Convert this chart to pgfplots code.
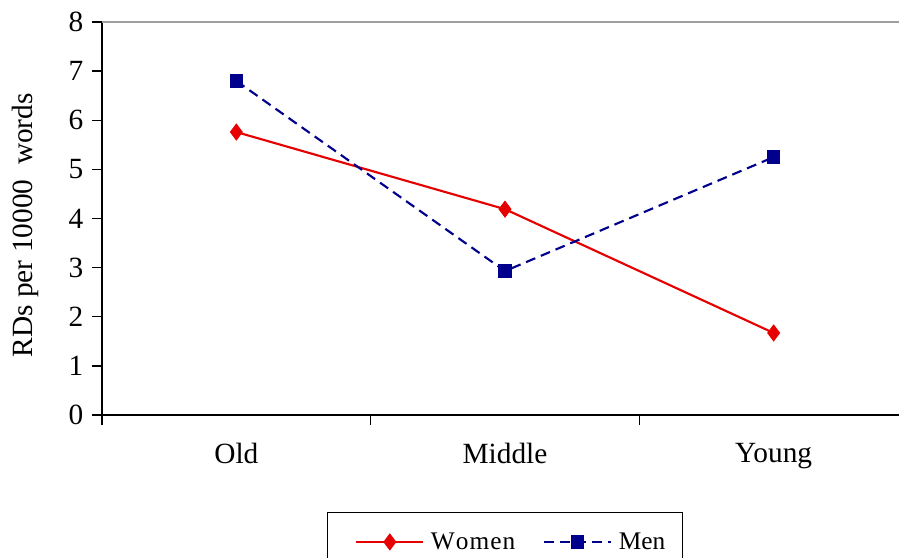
\documentclass[border=0pt]{standalone}
\usepackage{pgfplots}
\pgfplotsset{compat=1.18}
\usepackage{fontspec}
\setmainfont{Liberation Serif}
\definecolor{womenred}{RGB}{230,0,0}
\definecolor{mennavy}{RGB}{0,0,140}
\begin{document}
\begin{tikzpicture}
\begin{axis}[
  name=ax,
  at={(0,0)}, anchor=south west,
  scale only axis,
  width=604.5pt, height=294.75pt,
  xmin=0, xmax=3, ymin=0, ymax=8,
  axis x line*=bottom, axis y line*=left,
  axis line style={line width=1.1pt, black, -},
  xtick={0,1,2,3},
  xticklabels={Old,Middle,Young},
  x tick label as interval,
  ytick={0,1,...,8},
  tick style={line width=1.1pt, black},
  major tick length=7.5pt,
  tick align=outside,
  /pgf/number format/assume math mode=true,
  tick label style={font=\fontsize{22}{26}\selectfont},
  xticklabel style={yshift=-10pt},
  yticklabel style={xshift=-3pt},
  ylabel={RDs per 10000\ \ words},
  ylabel style={font=\fontsize{22}{26}\selectfont, at={(axis description cs:-0.0955,0.483)}, anchor=center},
  legend columns=2,
  legend style={
    at={(axis description cs:0.5,-0.2468)}, anchor=north,
    draw=black, line width=1pt,
    font=\fontsize{19}{22}\selectfont,
    inner xsep=11pt, inner ysep=13pt,
    /tikz/every odd column/.append style={column sep=3pt},
    /tikz/every even column/.append style={column sep=9pt},
  },
  legend image code/.code={
    \path (0pt,0pt);
    \draw[mark repeat=2,mark phase=2] plot coordinates {(10pt,0pt) (35pt,0pt) (60pt,0pt)};
  },
  clip=false,
]
\addplot[womenred, line width=1.6pt, mark=diamond*, mark size=5.2pt, mark options={solid, fill=womenred}]
  coordinates {(0.5,5.76) (1.5,4.19) (2.5,1.67)};
\addlegendentry{W\kern0.8pt o\kern0.8pt m\kern0.8pt e\kern0.8pt n}
\addplot[mennavy, line width=1.6pt, dash pattern=on 7.5pt off 4.5pt, mark=square*, mark size=4.2pt, mark options={solid, fill=mennavy}]
  coordinates {(0.5,6.80) (1.5,2.93) (2.5,5.25)};
\addlegendentry{Men}
\draw[gray!75, line width=1.6pt] (axis cs:0,8) -- (axis cs:3,8);
\end{axis}
\pgfresetboundingbox
\useasboundingbox (-76.5pt,-106.5pt) rectangle (597.75pt,311.25pt);
\end{tikzpicture}
\end{document}
